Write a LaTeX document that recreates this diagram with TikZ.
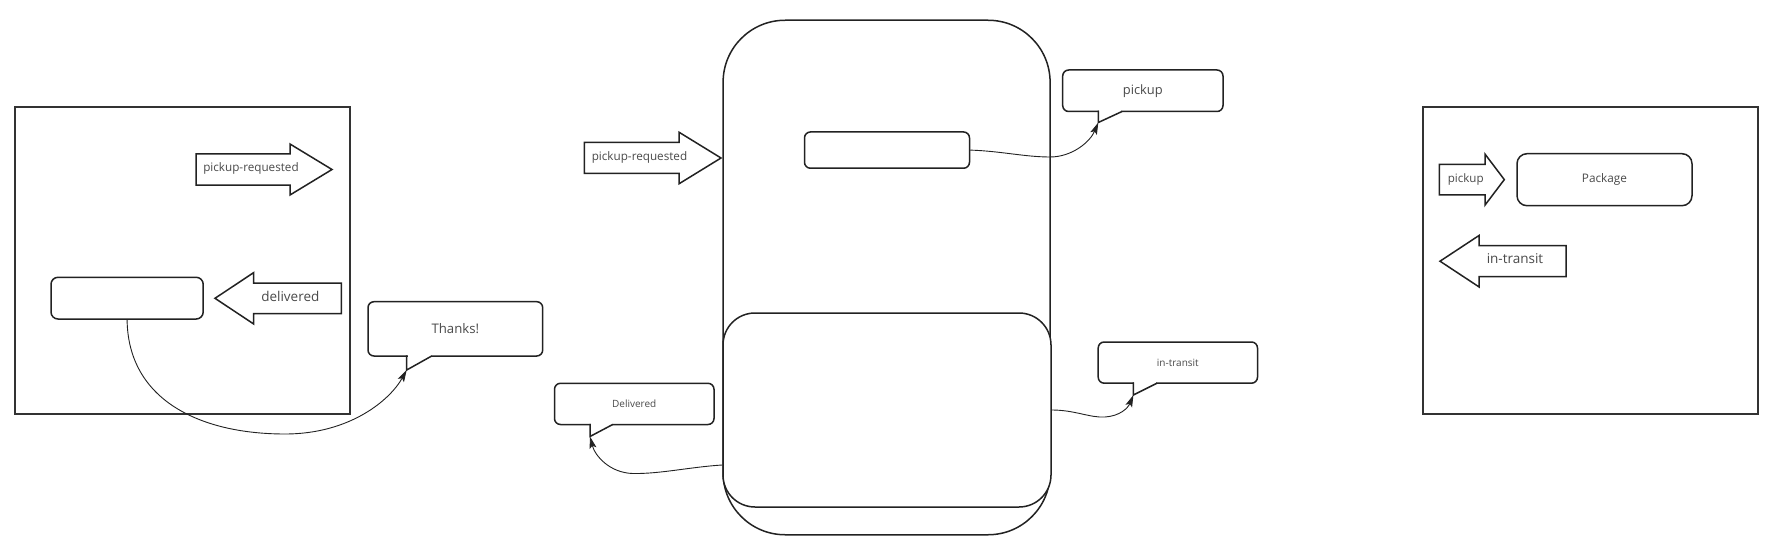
\documentclass[tikz,border=0pt]{standalone}
\usepackage{fontspec}
\setmainfont{Open Sans}
\usetikzlibrary{arrows.meta,calc}
\definecolor{ln}{HTML}{222222}
\definecolor{bx}{HTML}{333333}
\definecolor{tx}{HTML}{4A4A4A}
\tikzset{
  frame/.style={draw=bx, line width=1.8pt, inner sep=0pt},
  rbox/.style={draw=ln, line width=1.5pt, fill=white, rounded corners=#1, inner sep=0pt},
  blk/.style={draw=ln, line width=1.5pt, fill=white, line join=miter},
  lbl/.style={text=tx, inner sep=0pt, font=\fontsize{#1}{#1}\selectfont},
  conn/.style={draw=ln, line width=0.9pt, -{Stealth[length=12pt,width=7pt,inset=2.5pt]}},
  ptr/.style={draw=ln, line width=1.5pt, line join=miter},
}
% block arrow: body end, head base, tip, centre y, body half height, head half height
\newcommand\blockarrow[6]{%
  \draw[blk] (#1,{#4-#5}) -- (#2,{#4-#5}) -- (#2,{#4-#6}) -- (#3,#4)
    -- (#2,{#4+#6}) -- (#2,{#4+#5}) -- (#1,{#4+#5}) -- cycle;}
% callout pointer: left x, right x, bottom y, tip y
\newcommand\calloutptr[4]{%
  \draw[white, line width=2.6pt] ({#1+0.8},#3) -- ({#2-0.8},#3);
  \draw[ptr] (#1,{#3-0.75}) -- (#1,#4) -- (#2,#3);}
\begin{document}
\begin{tikzpicture}[x=1pt,y=-1pt]
\useasboundingbox[fill=white] (0,0) rectangle (1786,559);

% ---------- left frame ----------
\node[frame, minimum width=335pt, minimum height=307pt] (lframe) at (182.5,260.5) {};
\blockarrow{196}{290}{332}{169.5}{15.5}{25.5}
\node[lbl=11.7] (lreq) at (251,168) {pickup-requested};
\blockarrow{341.4}{253.7}{215}{298.3}{15.3}{25.7}
\node[lbl=13.5] (ldel) at (290.3,296) {delivered};
\node[rbox=7pt, minimum width=152.2pt, minimum height=41.7pt] (lrect) at (127.1,298.15) {};

% Thanks callout
\node[rbox=6pt, minimum width=174.7pt, minimum height=54.3pt, lbl=13.2] (thanks) at (455.35,328.85) {Thanks!};
\calloutptr{406.7}{431.7}{356}{370}
\coordinate (thankstip) at (406.7,370);
\draw[conn] (lrect.south) .. controls (128,400) and (200,434) .. (285,434)
  .. controls (350,434) and (390,400) .. (thankstip);

% ---------- middle ----------
\node[rbox=62pt, minimum width=327pt, minimum height=514.5pt] (bigbox) at (886.6,277.5) {};
\node[rbox=32pt, minimum width=328pt, minimum height=194pt] (brect) at (887,410) {};
\node[rbox=6pt, minimum width=165pt, minimum height=36.3pt] (srect) at (887,150.1) {};
\blockarrow{584.4}{679}{721}{158}{15.5}{25.8}
\node[lbl=11.7] (mreq) at (639.5,157) {pickup-requested};

% pickup callout
\node[rbox=6pt, minimum width=160.3pt, minimum height=41.5pt, lbl=12.9] (pickupc) at (1142.85,90.75) {pickup};
\calloutptr{1098.3}{1122}{111.5}{122.5}
\coordinate (pickuptip) at (1098.3,122.5);
\draw[conn] (srect.east) .. controls (1000,151) and (1025,157) .. (1050,157)
  .. controls (1072,157) and (1090,142) .. (pickuptip);

% in-transit callout
\node[rbox=6pt, minimum width=159.3pt, minimum height=41.2pt, lbl=10] (transitc) at (1177.85,362.6) {in-transit};
\calloutptr{1133.4}{1157}{383.2}{395}
\coordinate (transittip) at (1133.4,395);
\draw[conn] (brect.east) .. controls (1075,410) and (1090,418) .. (1105,417)
  .. controls (1120,416) and (1128,408) .. (transittip);

% Delivered callout
\node[rbox=6pt, minimum width=159.5pt, minimum height=41.2pt, lbl=10] (deliveredc) at (634.25,403.9) {Delivered};
\calloutptr{590}{612.7}{424.5}{436.5}
\coordinate (deliveredtip) at (590,436.5);
\draw[conn] ([yshift=-55pt]brect.west) .. controls (690,467) and (660,474) .. (633,473.5)
  .. controls (610,473) and (595,456) .. (deliveredtip);

% ---------- right frame ----------
\node[frame, minimum width=335pt, minimum height=307pt] (rframe) at (1590.8,260.8) {};
\blockarrow{1439.3}{1485}{1504.3}{179.6}{15.3}{25.5}
\node[lbl=11.6] (rpick) at (1465.7,179) {pickup};
\node[rbox=10pt, minimum width=175pt, minimum height=52pt, lbl=11.8] (package) at (1604.5,179.7) {Package};
\blockarrow{1566}{1479}{1440}{261.2}{15.5}{25.7}
\node[lbl=13.5] (rtransit) at (1515,259) {in-transit};
\end{tikzpicture}
\end{document}
